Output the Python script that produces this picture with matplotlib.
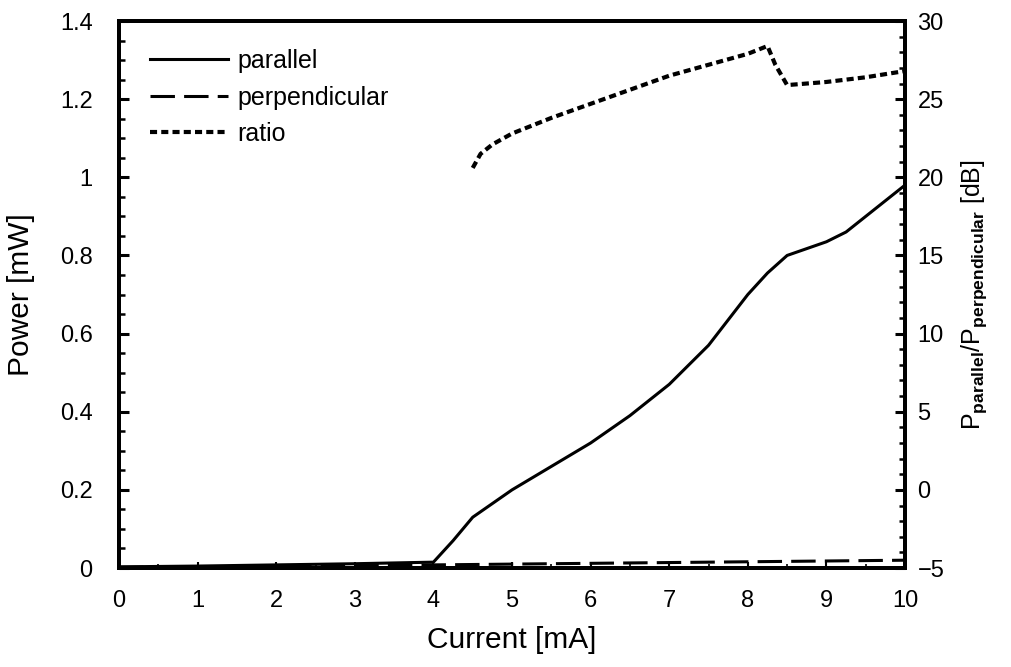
import matplotlib.pyplot as plt
from matplotlib.ticker import MultipleLocator

plt.rcParams['font.family'] = ['Liberation Sans', 'DejaVu Sans']
plt.rcParams['mathtext.fontset'] = 'custom'
plt.rcParams['mathtext.rm'] = 'Liberation Sans'
plt.rcParams['mathtext.it'] = 'Liberation Sans'
plt.rcParams['mathtext.bf'] = 'Liberation Sans:bold'

# Parallel polarisation power [mW]
par_current = [0, 1, 2, 3, 4, 4.25, 4.5, 5, 5.5, 6, 6.5, 7, 7.5, 8, 8.25, 8.5, 9, 9.25, 9.5, 10]
par_power = [0.003, 0.005, 0.008, 0.011, 0.015, 0.07, 0.13, 0.2, 0.26, 0.32, 0.39, 0.47,
             0.57, 0.7, 0.755, 0.8, 0.835, 0.86, 0.9, 0.98]

# Perpendicular polarisation power [mW]
perp_current = [0, 1, 2, 3, 4, 5, 6, 7, 8, 9, 10]
perp_power = [0.002, 0.003, 0.004, 0.006, 0.008, 0.01, 0.012, 0.014, 0.016, 0.018, 0.02]

# Polarisation ratio [dB]
ratio_current = [4.5, 4.6, 4.75, 5, 5.5, 6, 6.5, 7, 7.5, 8, 8.25, 8.35, 8.5, 9, 9.5, 10]
ratio_db = [20.6, 21.5, 22.1, 22.8, 23.8, 24.7, 25.6, 26.5, 27.2, 27.9, 28.4, 27.2,
            25.9, 26.1, 26.4, 26.8]

fig = plt.figure(figsize=(10.12, 6.67), dpi=100)
ax = fig.add_axes([0.1176, 0.1484, 0.7767, 0.8201])
ax2 = ax.twinx()

l1, = ax.plot(par_current, par_power, color='black', lw=2.2, label='parallel')
l2, = ax.plot(perp_current, perp_power, color='black', lw=2.2, dashes=(8, 3), label='perpendicular')
l3, = ax2.plot(ratio_current, ratio_db, color='black', lw=3, dashes=(1.7, 1), label='ratio')

ax.set_xlim(0, 10)
ax.set_ylim(0, 1.4)
ax2.set_ylim(-5, 30)

ax.xaxis.set_major_locator(MultipleLocator(1))
ax.xaxis.set_minor_locator(MultipleLocator(0.5))
ax.yaxis.set_minor_locator(MultipleLocator(0.05))
ax2.yaxis.set_major_locator(MultipleLocator(5))
ax2.yaxis.set_minor_locator(MultipleLocator(1))
ax.set_yticks([0, 0.2, 0.4, 0.6, 0.8, 1.0, 1.2, 1.4])
ax.set_yticklabels(['0', '0.2', '0.4', '0.6', '0.8', '1', '1.2', '1.4'])

ax.tick_params(axis='both', which='both', direction='in', labelsize=17)
ax.tick_params(axis='y', which='major', length=7, width=2.2, pad=19)
ax.tick_params(axis='y', which='minor', length=4.5, width=1.8)
ax.tick_params(axis='x', which='major', length=4, width=1.5, pad=16)
ax.tick_params(axis='x', which='minor', length=3, width=1.2)
ax2.tick_params(axis='y', which='both', direction='in', labelsize=17, pad=9)
ax2.tick_params(axis='y', which='major', length=7, width=2.2)
ax2.tick_params(axis='y', which='minor', length=4.5, width=1.8)

for a in (ax, ax2):
    for s in a.spines.values():
        s.set_linewidth(2.8)

ax.set_xlabel('Current [mA]', fontsize=21.5, labelpad=10)
ax.set_ylabel('Power [mW]', fontsize=21.5, labelpad=18)
ax2.set_ylabel(r'P$_\mathbf{parallel}$/P$_\mathbf{perpendicular}$ [dB]',
               fontsize=18, labelpad=11)

ax.legend(handles=[l1, l2, l3], loc='upper left', frameon=False, fontsize=18,
          handlelength=3.1, labelspacing=0.5, borderpad=0.4, borderaxespad=0,
          handletextpad=0.4, bbox_to_anchor=(0.027, 0.967))

fig.savefig('out.png', dpi=100)
